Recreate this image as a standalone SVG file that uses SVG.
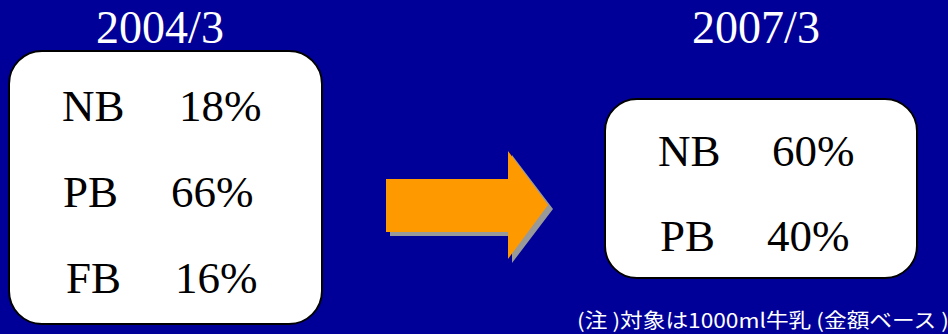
<svg xmlns="http://www.w3.org/2000/svg" width="948" height="334" viewBox="0 0 948 334">
<style>
.box{fill:#fff;stroke:#000;stroke-width:2}
.t{font-family:"Liberation Serif","Times New Roman",serif;font-size:45px;fill:#000}
.title{font-family:"Liberation Serif","Times New Roman",serif;font-size:46px;fill:#fff;text-anchor:middle}
.note{font-family:"Noto Sans CJK JP","Liberation Sans",sans-serif;font-size:20px;fill:#fff}
</style>
<rect x="0" y="0" width="948" height="334" fill="#000099"/>
<g id="title-2004">
<text class="title" x="160" y="43">2004/3</text>
</g>
<g id="box-2004">
<rect class="box" x="9" y="51" width="313" height="273" rx="33" ry="33"/>
<text class="t" x="62" y="121">NB</text>
<text class="t" x="179" y="121">18%</text>
<text class="t" x="63" y="207">PB</text>
<text class="t" x="171" y="207">66%</text>
<text class="t" x="66" y="293">FB</text>
<text class="t" x="175" y="293">16%</text>
</g>
<g id="arrow">
<polygon points="390,183 512,183 512,155 553,209 512,263 512,236 390,236" fill="#999999"/>
<polygon points="386,179 508,179 508,151 548,205 508,259 508,232 386,232" fill="#FF9900"/>
</g>
<g id="title-2007">
<text class="title" x="756" y="43">2007/3</text>
</g>
<g id="box-2007">
<rect class="box" x="605" y="99" width="312" height="179" rx="32" ry="32"/>
<text class="t" x="658" y="166">NB</text>
<text class="t" x="772" y="166">60%</text>
<text class="t" x="660" y="251">PB</text>
<text class="t" x="767" y="251">40%</text>
</g>
<g id="note">
<text class="note" x="577" y="328" textLength="372" lengthAdjust="spacingAndGlyphs">(注 )対象は1000ml牛乳 (金額ベース )</text>
</g>
</svg>
